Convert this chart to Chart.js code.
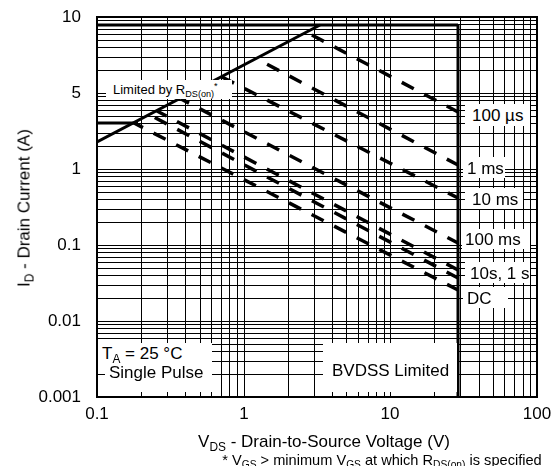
<!DOCTYPE html>
<html>
<head>
<meta charset="utf-8">
<script src="https://cdn.jsdelivr.net/npm/chart.js@4/dist/chart.umd.min.js"></script>
<style>
  html, body { margin: 0; padding: 0; background: #fff; }
  #wrap { position: relative; width: 556px; height: 466px; overflow: hidden;
          font-family: "Liberation Sans", Arial, sans-serif; color: #000; }
  #wrap canvas { position: absolute; left: 0; top: 0; }
  .note { position: absolute; background: #fff; white-space: nowrap; line-height: 1;
          box-sizing: border-box; font-size: 17px; }
  .title { position: absolute; white-space: nowrap; line-height: 1; font-size: 17px; }
  .sub { font-size: 0.7em; position: relative; top: 0.3em; }
  .sup { font-size: 0.7em; position: relative; top: -0.5em; }
</style>
</head>
<body>
<div id="wrap">
  <canvas id="soa" width="556" height="466"></canvas>

  <div class="note" style="left:106px;top:80px;width:126px;height:19px;font-size:13px;padding:3px 0 0 7px;">Limited by R<span class="sub">DS(on)</span><span class="sup">*</span></div>

  <div class="note" style="left:465px;top:104px;width:65px;height:22px;padding:3px 0 0 7px;">100 µs</div>
  <div class="note" style="left:463px;top:157px;width:42px;height:21px;padding:3px 0 0 4px;">1 ms</div>
  <div class="note" style="left:465px;top:188px;width:58px;height:21px;padding:3px 0 0 7px;">10 ms</div>
  <div class="note" style="left:462px;top:229px;width:68px;height:20px;padding:2px 0 0 3px;">100 ms</div>
  <div class="note" style="left:465px;top:262px;width:65px;height:21px;padding:3px 0 0 5px;">10s, 1 s</div>
  <div class="note" style="left:463px;top:287px;width:45px;height:21px;padding:3px 0 0 4px;">DC</div>

  <div class="note" style="left:98px;top:343px;width:114px;height:20px;padding:2px 0 0 4px;">T<span class="sub">A</span> = 25 °C</div>
  <div class="note" style="left:105px;top:363px;width:107px;height:29px;padding:1px 0 0 4px;">Single Pulse</div>
  <div class="note" style="left:323px;top:343px;width:134px;height:49px;padding:19px 0 0 9px;">BVDSS Limited</div>

  <div class="title" style="left:24px;top:208px;transform:translate(-50%,-50%) rotate(-90deg);">I<span class="sub">D</span> - Drain Current (A)</div>
  <div class="title" style="left:324px;top:441px;transform:translate(-50%,-50%);">V<span class="sub">DS</span> - Drain-to-Source Voltage (V)</div>
  <div class="title" style="left:382px;top:460px;transform:translate(-50%,-50%);font-size:14.6px;">* V<span class="sub">GS</span> &gt; minimum V<span class="sub">GS</span> at which R<span class="sub">DS(on)</span> is specified</div>
</div>

<script>
// axis ticks
const xTickValues = [0.1, 1, 10, 100];
const xTickLabels = ["0.1", "1", "10", "100"];
const yTickValues = [0.001, 0.01, 0.1, 1, 10, 100];
const yTickLabels = ["0.001", "0.01", "0.1", "1", "5", "10"];

// limit lines
const bvdssVoltage = 29;
const idmCurrent = 78.5;
const idCurrent = 4.0;
const idEndVoltage = 0.19;
const rdsVoltage = [0.1, 3.3];
const rdsCurrent = [2.26, 78.5];

// single pulse curves: start on the R_DS(on) line, end at BVDSS
const pulseNames = ["100 µs", "1 ms", "10 ms", "100 ms", "1 s", "10 s", "DC"];
const pulseStartV = [2.75, 1.23, 0.711, 0.374, 0.257, 0.23, 0.18];
const pulseStartI = [61.5, 28, 16.3, 8.3, 5.8, 5.14, 4.0];
const pulseEndI = [5.62, 1.13, 0.415, 0.106, 0.047, 0.037, 0.0256];
const pulseDashOffset = [21, 14, 0, 4.5, 2.8, 20, 3.4];

function logGrid(min, max) {
    const out = [];
    for (let e = Math.round(Math.log10(min)); e < Math.round(Math.log10(max)); e++) {
        for (let k = 1; k <= 9; k++) out.push(Number((k * Math.pow(10, e)).toPrecision(3)));
    }
    out.push(max);
    return out;
}

const pickLabel = (values, labels) => (v) => {
    const i = values.findIndex((t) => Math.abs(t - v) / t < 1e-6);
    return i >= 0 ? labels[i] : "";
};

const solid = (data) => ({
    data, borderColor: "#000", borderWidth: 3, pointRadius: 0, showLine: true, fill: false,
});

const datasets = [
    solid([{ x: 0.1, y: idmCurrent }, { x: bvdssVoltage, y: idmCurrent }]),
    solid([{ x: bvdssVoltage, y: idmCurrent }, { x: bvdssVoltage, y: 0.001 }]),
    solid([{ x: rdsVoltage[0], y: rdsCurrent[0] }, { x: rdsVoltage[1], y: rdsCurrent[1] }]),
    solid([{ x: 0.1, y: idCurrent }, { x: idEndVoltage, y: idCurrent }]),
];

pulseNames.forEach((name, i) => {
    datasets.push({
        label: name,
        data: [{ x: pulseStartV[i], y: pulseStartI[i] }, { x: bvdssVoltage, y: pulseEndI[i] }],
        borderColor: "#000",
        borderWidth: 3.5,
        borderDash: [13.5, 11.9],
        borderDashOffset: pulseDashOffset[i],
        pointRadius: 0,
        showLine: true,
        fill: false,
    });
});

const framePlugin = {
    id: "frame",
    afterDraw(chart) {
        const { ctx, chartArea: a } = chart;
        ctx.save();
        ctx.lineWidth = 2;
        ctx.strokeStyle = "#000";
        ctx.strokeRect(a.left, a.top, a.right - a.left, a.bottom - a.top);
        ctx.restore();
    },
};

const gridStyle = { color: "#000", lineWidth: 1, drawTicks: false };
const tickFont = { family: "'Liberation Sans', Arial, sans-serif", size: 17 };

new Chart(document.getElementById("soa"), {
    type: "scatter",
    data: { datasets },
    options: {
        responsive: false,
        animation: false,
        devicePixelRatio: 1,
        layout: { padding: { top: 17, right: 19, left: 0, bottom: 0 } },
        plugins: { legend: { display: false }, tooltip: { enabled: false } },
        scales: {
            x: {
                type: "logarithmic",
                min: 0.1,
                max: 100,
                alignToPixels: true,
                border: { display: false },
                grid: gridStyle,
                afterBuildTicks: (s) => { s.ticks = logGrid(0.1, 100).map((v) => ({ value: v })); },
                afterFit: (s) => { s.height = 69; s.paddingLeft = 0; s.paddingRight = 0; },
                ticks: {
                    autoSkip: false, maxRotation: 0, color: "#000", font: tickFont, padding: 7,
                    callback: pickLabel(xTickValues, xTickLabels),
                },
            },
            y: {
                type: "logarithmic",
                min: 0.001,
                max: 100,
                alignToPixels: true,
                border: { display: false },
                grid: gridStyle,
                afterBuildTicks: (s) => { s.ticks = logGrid(0.001, 100).map((v) => ({ value: v })); },
                afterFit: (s) => { s.width = 97; s.paddingTop = 0; s.paddingBottom = 0; },
                ticks: {
                    autoSkip: false, color: "#000", font: tickFont, padding: 16,
                    callback: pickLabel(yTickValues, yTickLabels),
                },
            },
        },
    },
    plugins: [framePlugin],
});
</script>
</body>
</html>
